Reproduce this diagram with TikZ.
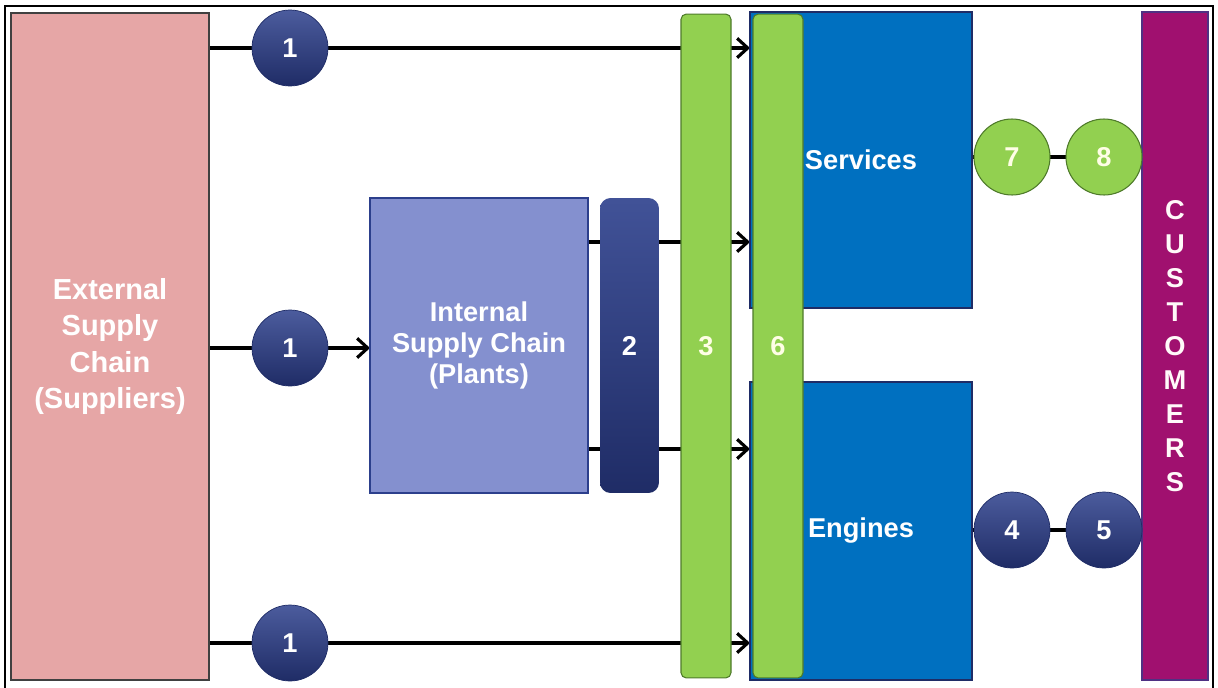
\documentclass[tikz,border=0pt]{standalone}
\usepackage{fontspec}
\setmainfont{Liberation Sans}
\usetikzlibrary{arrows.meta}
\usetikzlibrary{backgrounds}

\definecolor{supplypink}{HTML}{E6A6A6}
\definecolor{plantblue}{HTML}{8490CF}
\definecolor{navy}{HTML}{2C3F8C}
\definecolor{navydark}{HTML}{1F2C66}
\definecolor{leafgreen}{HTML}{92D050}
\definecolor{leafdark}{HTML}{4E7A2A}
\definecolor{unitblue}{HTML}{0070C0}
\definecolor{custpurple}{HTML}{A0106F}

\tikzset{
  block/.style={draw, line width=1.2pt, inner sep=0pt, outer sep=0pt,
    text=white, font=\fontsize{15.5}{17.6}\selectfont\bfseries, align=center},
  bar/.style={draw=leafdark, line width=0.6pt, fill=leafgreen, rounded corners=3pt,
    minimum width=1cm, minimum height=13.28cm, inner sep=0pt, outer sep=0pt,
    text=white!90!yellow, font=\fontsize{15.5}{17.6}\selectfont\bfseries},
  stage/.style={circle, minimum size=1.52cm, inner sep=0pt, outer sep=0pt,
    font=\fontsize{15.5}{17.6}\selectfont\bfseries},
  bluestage/.style={stage, draw=navydark, top color=navy!85!white, bottom color=navydark,
    text=white},
  greenstage/.style={stage, draw=leafdark, line width=0.6pt, fill=leafgreen,
    text=white!90!yellow},
  flow/.style={line width=1.8pt, -{Straight Barb[length=6pt,width=11pt]}},
  link/.style={line width=1.8pt}
}

\begin{document}
\begin{tikzpicture}[x=0.02cm, y=-0.02cm]
	\useasboundingbox (0,0) rectangle (1218,687);
	\draw[line width=1.2pt] (5,690) -- (5,6) -- (1213,6) -- (1213,690);

	% main blocks
	\node[block, draw=black!75, line width=1.6pt, fill=supplypink, minimum width=3.96cm,
	  minimum height=13.34cm, font=\fontsize{16.5}{20.5}\selectfont\bfseries] (ext) at (110,346.5)
	  {External\\Supply\\Chain\\(Suppliers)};
	\node[block, draw=navy, fill=plantblue, minimum width=4.36cm, minimum height=5.9cm]
	  (int) at (479,345.5) {Internal\\Supply Chain\\(Plants)};
	\node[block, draw=none, top color=navy!90!white, bottom color=navydark, rounded corners=6pt,
	  minimum width=1.18cm, minimum height=5.9cm] (two) at (629.5,345.5) {2};
	\node[block, draw=navydark, fill=unitblue, minimum width=4.44cm, minimum height=5.92cm]
	  (srv) at (861,160) {Services};
	\node[block, draw=navydark, fill=unitblue, minimum width=4.44cm, minimum height=5.96cm]
	  (eng) at (861,531) {Engines};
	\node[block, draw=navy!70!custpurple, fill=custpurple, minimum width=1.32cm,
	  minimum height=13.36cm, text=white!90!pink, font=\fontsize{15.5}{19.3}\selectfont\bfseries]
	  (cust) at (1175,346) {C\\U\\S\\T\\O\\M\\E\\R\\S};

	% vertical bars
	\node[bar] (three) at (706,346) {3};
	\node[bar] (six) at (778,346) {6};

	% numbered stages
	\node[bluestage] (s1a) at (290,48) {1};
	\node[bluestage] (s1b) at (290,348) {1};
	\node[bluestage] (s1c) at (290,643) {1};
	\node[greenstage] (s7) at (1012,157) {7};
	\node[greenstage] (s8) at (1104,157) {8};
	\node[bluestage] (s4) at (1012,530) {4};
	\node[bluestage] (s5) at (1104,530) {5};

	\coordinate (plantup) at ([yshift=2.07cm]int.east);
	\coordinate (plantdown) at ([yshift=-2.07cm]int.east);

	% connectors
	\begin{scope}[on background layer]
		\draw[flow] (ext.east |- s1a) -- (srv.west |- s1a);
		\draw[link] (ext.east |- s1b) -- (s1b);
		\draw[flow] (s1b) -- (int.west |- s1b);
		\draw[flow] (ext.east |- s1c) -- (eng.west |- s1c);
		\draw[flow] (plantup) -- (srv.west |- plantup);
		\draw[flow] (plantdown) -- (eng.west |- plantdown);
		\draw[link] (srv.east |- s7) -- (s7) -- (s8);
		\draw[link] (eng.east |- s4) -- (s4) -- (s5) -- (cust.west |- s5);
	\end{scope}
\end{tikzpicture}
\end{document}
